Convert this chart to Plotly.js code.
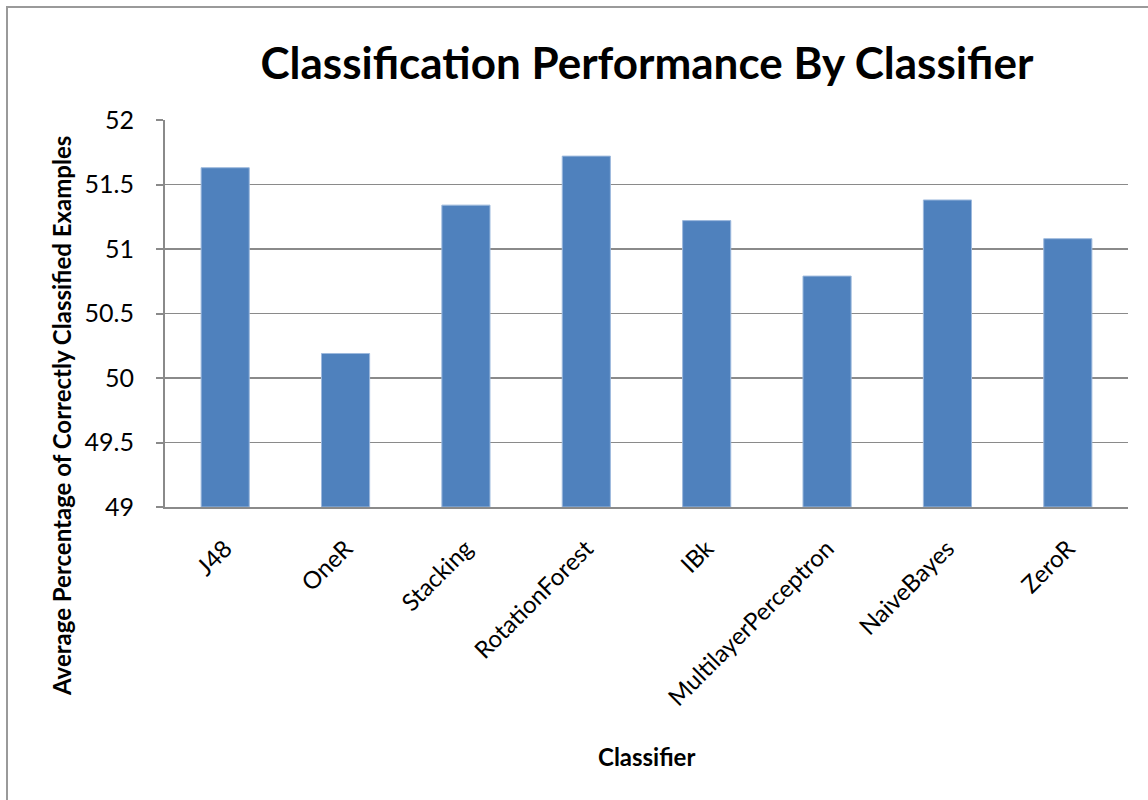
<!DOCTYPE html>
<html>
<head>
<meta charset="utf-8">
<script src="https://cdn.plot.ly/plotly-3.0.1.min.js"></script>
<style>
html,body{margin:0;padding:0;background:#fff;overflow:hidden;}
#chart{position:absolute;left:0;top:0;width:1148px;height:800px;}
#frame{position:absolute;left:6px;top:6px;width:1300px;height:1000px;border:2px solid #9a9a9a;pointer-events:none;}
</style>
</head>
<body>
<div id="chart"></div>
<div id="frame"></div>
<script>
const classifiers = ["J48","OneR","Stacking","RotationForest","IBk","MultilayerPerceptron","NaiveBayes","ZeroR"];
const accuracy = [51.63, 50.19, 51.34, 51.72, 51.22, 50.79, 51.38, 51.08];
const yTicks = [49, 49.5, 50, 50.5, 51, 51.5, 52];
const yTickLabels = ["49","49.5","50","50.5","51","51.5","52"];

const FONT = "Lato, 'Open Sans', sans-serif";
const BASE = 49;

const trace = {
  type: "bar",
  x: classifiers,
  y: accuracy.map(v => v - BASE),
  base: BASE,
  customdata: accuracy,
  hovertemplate: "%{x}: %{customdata}<extra></extra>",
  marker: {color: "#4F81BD", line: {color: "#9DB9DD", width: 1}}
};

const layout = {
  width: 1148, height: 800,
  margin: {l: 165, r: 20, t: 120, b: 293},
  paper_bgcolor: "#ffffff",
  plot_bgcolor: "#ffffff",
  showlegend: false,
  bargap: 0.6,
  font: {family: FONT, color: "#000"},
  title: {
    text: "<b>Classification Performance By Classifier</b>",
    font: {family: FONT, size: 44, color: "#000"},
    x: 0.5635, xanchor: "center", y: 0.92, yanchor: "middle"
  },
  xaxis: {
    type: "category",
    tickangle: -45,
    tickfont: {family: FONT, size: 24, color: "#000"},
    ticklabelstandoff: 16,
    showline: true, linecolor: "#8a8a8a", linewidth: 2,
    ticks: "", showgrid: false
  },
  yaxis: {
    range: [49, 52],
    tickvals: yTicks,
    ticktext: yTickLabels,
    tickfont: {family: FONT, size: 25, color: "#000"},
    showline: true, linecolor: "#8a8a8a", linewidth: 2,
    ticks: "outside", ticklen: 7, tickcolor: "#8a8a8a", tickwidth: 2,
    ticklabelstandoff: 17,
    showgrid: true, gridcolor: "#8a8a8a", gridwidth: 1.5,
    zeroline: false
  },
  annotations: [
    {
      text: "<b>Average Percentage of Correctly Classified Examples</b>",
      xref: "paper", yref: "paper",
      x: -0.108, y: 0.235, xanchor: "center", yanchor: "middle",
      textangle: -90, showarrow: false,
      font: {family: FONT, size: 24, color: "#000"}
    },
    {
      text: "<b>Classifier</b>",
      xref: "paper", yref: "paper",
      x: 0.5, y: -0.645, xanchor: "center", yanchor: "middle",
      showarrow: false,
      font: {family: FONT, size: 24, color: "#000"}
    }
  ]
};

Plotly.newPlot("chart", [trace], layout, {displayModeBar: false, staticPlot: true});
</script>
</body>
</html>
